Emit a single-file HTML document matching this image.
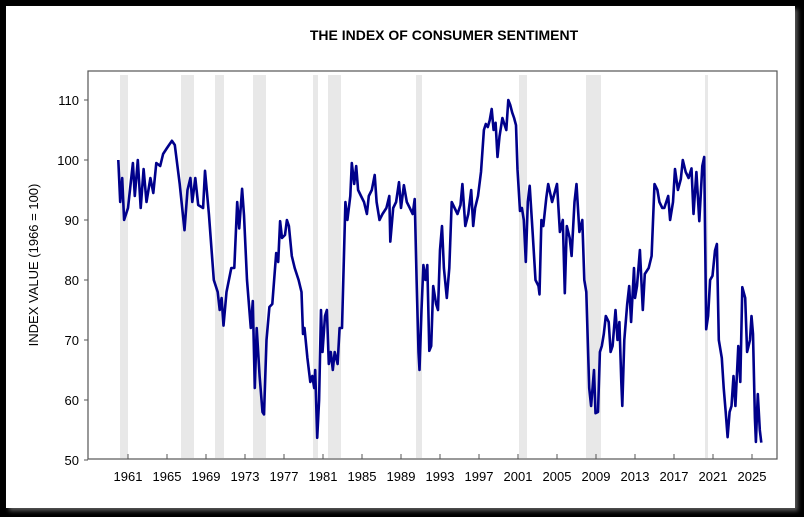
<!DOCTYPE html>
<html><head><meta charset="utf-8"><style>
html,body{margin:0;padding:0;background:#000;}
body{width:804px;height:517px;position:relative;overflow:hidden;}
#panel{position:absolute;left:6px;top:6px;width:789px;height:502px;background:#fff;box-shadow:3px 3px 4px #555;}
svg{position:absolute;left:0;top:0;}
text{font-family:"Liberation Sans",Arial,sans-serif;}
</style></head><body>
<div id="panel"></div>
<svg id="s" width="804" height="517" xmlns="http://www.w3.org/2000/svg">
<text x="444" y="40" text-anchor="middle" font-size="14" font-weight="bold">THE INDEX OF CONSUMER SENTIMENT</text>
<g id="rec" fill="#e8e8e8"></g>
<rect x="88" y="71" width="689" height="388" fill="none" stroke="#555" stroke-width="1.2"/>
<g id="ax" font-size="13" fill="#000"></g>
<text transform="translate(38,265) rotate(-90)" text-anchor="middle" font-size="13">INDEX VALUE (1966 = 100)</text>
<polyline id="ln" fill="none" stroke="#00008B" stroke-width="2.6" stroke-linejoin="round"/>
</svg>
<script>
var NS="http://www.w3.org/2000/svg";
function X(y){return 752+(y-2025)*9.75;}
function Y(v){return 460-(v-50)*6;}
var rec=[[120,128],[181,194],[215,224],[253,266],[313,318],[328,341],[416,422],[519,527],[586,601],[705,708]];
var g=document.getElementById('rec');
rec.forEach(function(r){var e=document.createElementNS(NS,'rect');e.setAttribute('x',r[0]);e.setAttribute('y',75);e.setAttribute('width',r[1]-r[0]);e.setAttribute('height',383);g.appendChild(e);});
var ax=document.getElementById('ax');
function add(tag,at,txt){var e=document.createElementNS(NS,tag);for(var k in at)e.setAttribute(k,at[k]);if(txt)e.textContent=txt;ax.appendChild(e);return e;}
[50,60,70,80,90,100,110].forEach(function(v){var y=Y(v);add('line',{x1:84,x2:88,y1:y,y2:y,stroke:'#555'});add('text',{x:79,y:y+5,'text-anchor':'end'},String(v));});
for(var yr=1961;yr<=2025;yr+=4){var x=X(yr);add('line',{x1:x,x2:x,y1:454,y2:459,stroke:'#555'});add('text',{x:x,y:481,'text-anchor':'middle'},String(yr));}
var d=[1960.0,100,1960.2,93,1960.4,97,1960.6,90,1961.0,92,1961.5,99.5,1961.7,94,1962.0,100,1962.3,92,1962.6,98.5,1962.9,93,1963.3,97,1963.6,94.5,1963.9,99.5,1964.3,99,1964.6,101,1965.0,102,1965.5,103.2,1965.8,102.5,1966.3,96,1966.8,88.3,1967.1,95,1967.4,97,1967.6,93,1967.9,97,1968.2,92.5,1968.7,92,1968.9,98.2,1969.3,91,1969.8,80,1970.2,78,1970.4,75,1970.6,77,1970.8,72.4,1971.1,78,1971.6,82,1971.9,82,1972.2,93,1972.4,88.6,1972.7,95.2,1972.9,90.8,1973.2,80,1973.6,72,1973.8,76.5,1974.0,62,1974.2,72,1974.5,64,1974.8,58,1974.95,57.6,1975.2,70,1975.5,75.5,1975.8,76,1976.2,84.5,1976.4,83,1976.6,89.8,1976.8,87,1977.1,87.5,1977.3,90,1977.5,89,1977.8,84,1978.1,82,1978.5,80,1978.8,78,1978.95,71,1979.1,72,1979.4,67,1979.7,63,1979.9,64,1980.1,62,1980.2,65,1980.4,53.7,1980.6,60,1980.8,75,1980.95,68,1981.2,74,1981.4,75,1981.6,66,1981.8,68,1982.0,65,1982.2,68,1982.5,66,1982.7,72,1982.95,72,1983.3,93,1983.5,90,1983.8,94,1983.95,99.5,1984.2,96,1984.4,99,1984.6,95,1984.9,94,1985.2,93,1985.5,91,1985.7,94,1986.0,95,1986.3,97.5,1986.5,93,1986.8,90,1987.1,91,1987.5,92,1987.8,94,1987.9,86.4,1988.2,92,1988.5,93,1988.8,96.3,1989.0,92,1989.3,95.8,1989.6,93,1989.9,92,1990.2,91,1990.4,93.5,1990.6,80,1990.8,68,1990.9,65,1991.1,75,1991.3,82.5,1991.5,80,1991.7,82.5,1991.9,68.2,1992.1,69,1992.3,79,1992.6,76,1992.8,75,1993.0,85,1993.2,89,1993.4,82,1993.7,77,1993.95,82,1994.2,93,1994.5,92,1994.8,91,1995.1,92.5,1995.3,96,1995.6,89,1995.9,91,1996.2,95,1996.4,89,1996.6,92,1996.9,94,1997.2,98,1997.5,105,1997.7,106,1997.9,105.5,1998.1,106.6,1998.3,108.5,1998.5,105,1998.7,106.2,1998.9,100.5,1999.1,103.9,1999.4,107,1999.6,106,1999.8,105,2000.0,110,2000.2,109.2,2000.4,107.9,2000.6,107,2000.8,105.8,2000.95,98.4,2001.2,91.5,2001.4,92,2001.6,90,2001.8,83,2002.0,93,2002.2,95.7,2002.5,88,2002.8,80,2003.1,79,2003.2,77.6,2003.4,90,2003.6,89,2003.9,93.7,2004.1,96,2004.5,93,2005.0,96,2005.3,88,2005.6,90,2005.8,77.8,2006.0,89,2006.3,87,2006.5,84,2006.8,93,2007.0,96,2007.3,88,2007.6,90,2007.8,80,2008.0,78,2008.3,62,2008.5,59,2008.8,65,2008.95,57.8,2009.2,58,2009.4,68,2009.6,69,2009.8,71,2010.0,74,2010.3,73,2010.5,68,2010.7,69,2011.0,75,2011.2,70,2011.4,73,2011.6,63,2011.7,59,2011.9,70,2012.2,76,2012.4,79,2012.6,73,2012.9,82,2013.0,77,2013.2,79,2013.5,85,2013.8,75,2014.0,81,2014.4,82,2014.7,84,2015.0,96,2015.3,95,2015.5,93,2015.8,92,2016.0,92,2016.4,94,2016.6,90,2016.9,93,2017.1,98.5,2017.4,95,2017.7,96.8,2017.9,100,2018.2,98,2018.5,97,2018.8,98.6,2019.0,91,2019.3,98,2019.6,89.8,2019.9,99,2020.1,100.5,2020.3,71.8,2020.5,74,2020.7,80,2020.95,80.7,2021.2,84.9,2021.4,86,2021.6,70,2021.9,67,2022.1,62,2022.3,58,2022.5,53.8,2022.7,58,2022.9,59,2023.1,64,2023.3,59,2023.6,69,2023.8,63,2024.0,78.8,2024.3,77,2024.5,68,2024.8,70,2024.95,74,2025.1,71,2025.3,57,2025.4,53,2025.6,61,2025.8,55,2025.95,52.9];
var p=[];for(var i=0;i<d.length;i+=2)p.push(X(d[i]).toFixed(1)+','+Y(d[i+1]).toFixed(1));
document.getElementById('ln').setAttribute('points',p.join(' '));
</script>
</body></html>
